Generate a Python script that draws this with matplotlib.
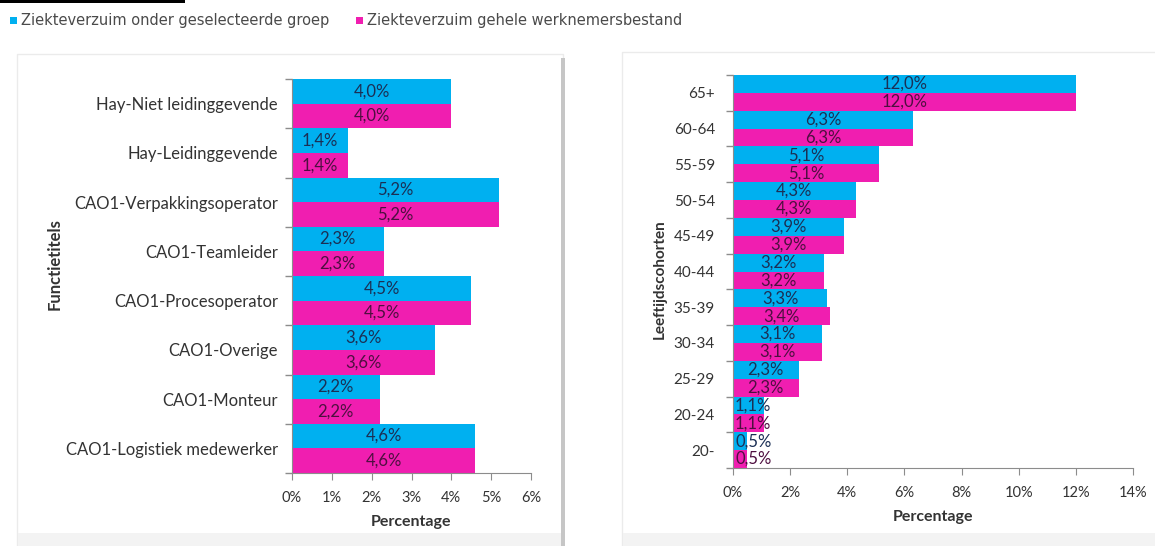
import matplotlib
matplotlib.use("Agg")
import matplotlib.pyplot as plt
from matplotlib.patches import Rectangle
from matplotlib.ticker import PercentFormatter, FixedLocator

plt.rcParams['font.family'] = ['Lato', 'DejaVu Sans']

# Sick leave per job title (%), selected group vs. whole workforce
functies = ['Hay-Niet leidinggevende', 'Hay-Leidinggevende', 'CAO1-Verpakkingsoperator',
            'CAO1-Teamleider', 'CAO1-Procesoperator', 'CAO1-Overige', 'CAO1-Monteur',
            'CAO1-Logistiek medewerker']
functie_groep = [4.0, 1.4, 5.2, 2.3, 4.5, 3.6, 2.2, 4.6]
functie_totaal = [4.0, 1.4, 5.2, 2.3, 4.5, 3.6, 2.2, 4.6]

# Sick leave per age cohort (%)
cohorten = ['65+', '60-64', '55-59', '50-54', '45-49', '40-44', '35-39', '30-34',
            '25-29', '20-24', '20-']
cohort_groep = [12.0, 6.3, 5.1, 4.3, 3.9, 3.2, 3.3, 3.1, 2.3, 1.1, 0.5]
cohort_totaal = [12.0, 6.3, 5.1, 4.3, 3.9, 3.2, 3.4, 3.1, 2.3, 1.1, 0.5]

legend_labels = ['Ziekteverzuim onder geselecteerde groep', 'Ziekteverzuim gehele werknemersbestand']

BLUE = '#00B0F0'
PINK = '#F01EB0'
BLUE_TXT = '#1B2F55'
PINK_TXT = '#4E0F40'
AXIS = '#8c8c8c'
TXT = '#333333'

W, H = 1155, 546
fig = plt.figure(figsize=(W / 100, H / 100), dpi=100)
fig.patch.set_facecolor('white')


def px_rect(x0, y0, x1, y1, **kw):
    """Rectangle in figure pixel coordinates (origin top-left), behind the axes."""
    fig.patches.append(Rectangle((x0 / W, 1 - y1 / H), (x1 - x0) / W, (y1 - y0) / H,
                                 transform=fig.transFigure, figure=fig, zorder=-5, **kw))


# panel frames, shadows and the stray rule at the top
px_rect(17, 54, 563, 546, facecolor='white', edgecolor='#ebebeb', linewidth=1)
px_rect(622, 52, 1160, 546, facecolor='white', edgecolor='#ebebeb', linewidth=1)
px_rect(18, 533, 562, 546, facecolor='#f3f3f3', edgecolor='none')
px_rect(623, 533, 1155, 546, facecolor='#f3f3f3', edgecolor='none')
px_rect(561, 58, 565, 546, facecolor='#c6c6c6', edgecolor='none')
px_rect(0, 0, 185, 3, facecolor='black', edgecolor='none')

# legend row
LEG_FONT = ['DejaVu Sans']
px_rect(10, 17, 17, 24, facecolor=BLUE, edgecolor='none')
fig.text(21 / W, 1 - 21 / H, legend_labels[0], fontsize=10.5, color='#4a4a4a',
         va='center', family=LEG_FONT)
px_rect(356, 17, 363, 24, facecolor=PINK, edgecolor='none')
fig.text(367 / W, 1 - 21 / H, legend_labels[1], fontsize=10.5, color='#4a4a4a',
         va='center', family=LEG_FONT)


def draw_panel(ax, cats, groep, totaal, xmax, step, lab_size, val_size, pad):
    n = len(cats)
    idx = list(range(n))
    ax.set_facecolor('none')
    ax.barh([i - 0.25 for i in idx], groep, height=0.5, color=BLUE, zorder=2)
    ax.barh([i + 0.25 for i in idx], totaal, height=0.5, color=PINK, zorder=2)
    ax.set_ylim(n - 0.5, -0.5)
    ax.set_xlim(0, xmax)

    ax.yaxis.set_major_locator(FixedLocator(idx))
    ax.set_yticklabels(cats, fontsize=lab_size, color=TXT)
    ax.yaxis.set_minor_locator(FixedLocator([i - 0.5 for i in range(n + 1)]))
    ax.tick_params(axis='y', which='major', length=0, pad=pad)
    ax.tick_params(axis='y', which='minor', length=5, color=AXIS, width=1)

    ax.set_xticks([step * k for k in range(int(round(xmax / step)) + 1)])
    ax.xaxis.set_major_formatter(PercentFormatter(decimals=0))
    ax.tick_params(axis='x', length=5, color=AXIS, labelsize=10.5, labelcolor=TXT, pad=8)

    for side in ('top', 'right'):
        ax.spines[side].set_visible(False)
    for side in ('left', 'bottom'):
        ax.spines[side].set_color(AXIS)

    ax.set_xlabel('Percentage', fontsize=11.5, fontweight='bold', color=TXT, labelpad=7)

    texts = []
    for i in idx:
        for v, off, col in ((groep[i], -0.25, BLUE_TXT), (totaal[i], 0.25, PINK_TXT)):
            t = ax.text(v / 2, i + off, f'{v:.1f}'.replace('.', ',') + '%', ha='center',
                        va='center', fontsize=val_size, color=col, zorder=3)
            texts.append(t)
    return texts


ax1 = fig.add_axes([292 / W, 1 - 473 / H, (531 - 292) / W, (473 - 79) / H])
ax2 = fig.add_axes([733 / W, 1 - 468 / H, (1133 - 733) / W, (468 - 75) / H])

labels = draw_panel(ax1, functies, functie_groep, functie_totaal, 6, 1, 12, 12, 10)
labels += draw_panel(ax2, cohorten, cohort_groep, cohort_totaal, 14, 2, 11, 12, 13)

fig.text(55 / W, 1 - 264 / H, 'Functietitels', rotation=90, fontsize=12,
         fontweight='bold', color=TXT, ha='center', va='center')
fig.text(660 / W, 1 - 279 / H, 'Leeftijdscohorten', rotation=90, fontsize=11,
         fontweight='bold', color=TXT, ha='center', va='center')

# keep value labels of very short bars inside the plot area
fig.canvas.draw()
renderer = fig.canvas.get_renderer()
for t in labels:
    ax = t.axes
    bb = t.get_window_extent(renderer)
    left = ax.get_window_extent(renderer).x0
    if bb.x0 < left + 2:
        t.set_ha('left')
        x_data = ax.transData.inverted().transform((left + 2, 0))[0]
        t.set_x(x_data)

fig.savefig('out.png', dpi=100)
